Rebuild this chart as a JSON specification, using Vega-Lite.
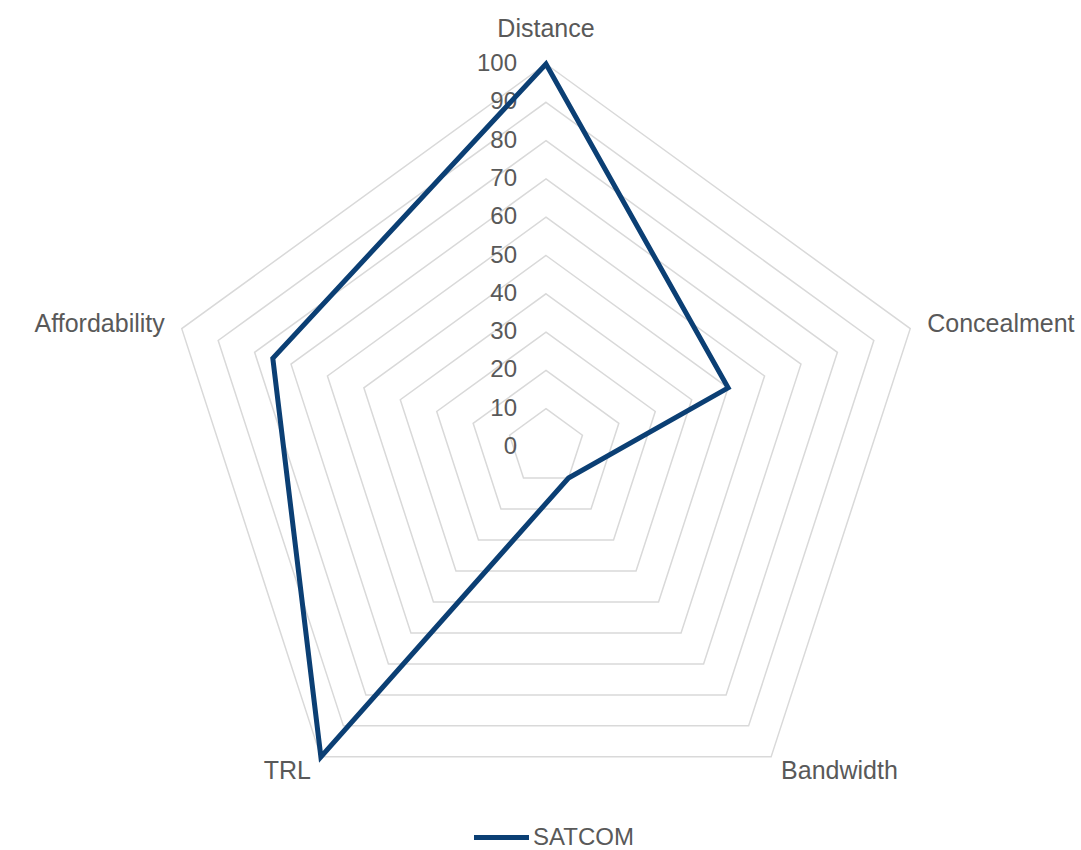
{
  "$schema": "https://vega.github.io/schema/vega-lite/v6.json",
  "width": 1081,
  "height": 850,
  "padding": 0,
  "autosize": {"type": "none"},
  "background": "white",
  "config": {"view": {"stroke": null}, "font": "Liberation Sans"},
  "datasets": {
    "series": [
      {"series": "SATCOM", "axis": "Distance", "k": 0, "value": 100},
      {"series": "SATCOM", "axis": "Concealment", "k": 1, "value": 50},
      {"series": "SATCOM", "axis": "Bandwidth", "k": 2, "value": 10},
      {"series": "SATCOM", "axis": "TRL", "k": 3, "value": 100},
      {"series": "SATCOM", "axis": "Affordability", "k": 4, "value": 75}
    ],
    "rings": [
      {"level": 0, "k": [0, 1, 2, 3, 4]},
      {"level": 10, "k": [0, 1, 2, 3, 4]},
      {"level": 20, "k": [0, 1, 2, 3, 4]},
      {"level": 30, "k": [0, 1, 2, 3, 4]},
      {"level": 40, "k": [0, 1, 2, 3, 4]},
      {"level": 50, "k": [0, 1, 2, 3, 4]},
      {"level": 60, "k": [0, 1, 2, 3, 4]},
      {"level": 70, "k": [0, 1, 2, 3, 4]},
      {"level": 80, "k": [0, 1, 2, 3, 4]},
      {"level": 90, "k": [0, 1, 2, 3, 4]},
      {"level": 100, "k": [0, 1, 2, 3, 4]}
    ]
  },
  "layer": [
    {
      "data": {"name": "rings"},
      "transform": [
        {"filter": "datum.level > 0"},
        {"flatten": ["k"]},
        {"calculate": "datum.level * sin(datum.k * 2 * PI / 5)", "as": "x"},
        {"calculate": "datum.level * cos(datum.k * 2 * PI / 5)", "as": "y"}
      ],
      "mark": {"type": "line", "interpolate": "linear-closed", "stroke": "#d9d9d9", "strokeWidth": 1.5},
      "encoding": {
        "x": {"field": "x", "type": "quantitative", "scale": {"domain": [-142.56, 139.69], "nice": false, "zero": false}, "axis": null},
        "y": {"field": "y", "type": "quantitative", "scale": {"domain": [-105.22, 116.71], "nice": false, "zero": false}, "axis": null},
        "detail": {"field": "level", "type": "nominal"},
        "order": {"field": "k", "type": "quantitative"}
      }
    },
    {
      "data": {"name": "rings"},
      "transform": [
        {"calculate": "0", "as": "x"},
        {"calculate": "datum.level", "as": "y"}
      ],
      "mark": {"type": "text", "align": "right", "baseline": "middle", "dx": -29, "fontSize": 24, "color": "#595959"},
      "encoding": {
        "x": {"field": "x", "type": "quantitative"},
        "y": {"field": "y", "type": "quantitative"},
        "text": {"field": "level", "type": "quantitative"}
      }
    },
    {
      "data": {"name": "series"},
      "transform": [
        {"calculate": "datum.value * sin(datum.k * 2 * PI / 5)", "as": "x"},
        {"calculate": "datum.value * cos(datum.k * 2 * PI / 5)", "as": "y"}
      ],
      "mark": {"type": "line", "interpolate": "linear-closed", "strokeWidth": 5, "strokeJoin": "miter"},
      "encoding": {
        "x": {"field": "x", "type": "quantitative"},
        "y": {"field": "y", "type": "quantitative"},
        "order": {"field": "k", "type": "quantitative"},
        "color": {
          "field": "series",
          "type": "nominal",
          "scale": {"range": ["#0B3F74"]},
          "legend": {
            "title": null,
            "orient": "none",
            "legendX": 485,
            "legendY": 821,
            "padding": 0,
            "symbolType": "M-2,0H2",
            "symbolStrokeWidth": 5,
            "symbolSize": 756,
            "labelFontSize": 24,
            "labelColor": "#595959",
            "labelOffset": 15
          }
        }
      }
    },
    {
      "data": {"name": "series"},
      "transform": [
        {"filter": "datum.k == 0"},
        {"calculate": "100 * sin(datum.k * 2 * PI / 5)", "as": "x"},
        {"calculate": "100 * cos(datum.k * 2 * PI / 5)", "as": "y"}
      ],
      "mark": {"type": "text", "align": "center", "baseline": "middle", "dy": -35, "fontSize": 25, "color": "#595959"},
      "encoding": {
        "x": {"field": "x", "type": "quantitative"},
        "y": {"field": "y", "type": "quantitative"},
        "text": {"field": "axis", "type": "nominal"}
      }
    },
    {
      "data": {"name": "series"},
      "transform": [
        {"filter": "datum.k == 1"},
        {"calculate": "100 * sin(datum.k * 2 * PI / 5)", "as": "x"},
        {"calculate": "100 * cos(datum.k * 2 * PI / 5)", "as": "y"}
      ],
      "mark": {"type": "text", "align": "left", "baseline": "middle", "dx": 17, "dy": -5, "fontSize": 25, "color": "#595959"},
      "encoding": {
        "x": {"field": "x", "type": "quantitative"},
        "y": {"field": "y", "type": "quantitative"},
        "text": {"field": "axis", "type": "nominal"}
      }
    },
    {
      "data": {"name": "series"},
      "transform": [
        {"filter": "datum.k == 2"},
        {"calculate": "100 * sin(datum.k * 2 * PI / 5)", "as": "x"},
        {"calculate": "100 * cos(datum.k * 2 * PI / 5)", "as": "y"}
      ],
      "mark": {"type": "text", "align": "left", "baseline": "middle", "dx": 10, "dy": 14, "fontSize": 25, "color": "#595959"},
      "encoding": {
        "x": {"field": "x", "type": "quantitative"},
        "y": {"field": "y", "type": "quantitative"},
        "text": {"field": "axis", "type": "nominal"}
      }
    },
    {
      "data": {"name": "series"},
      "transform": [
        {"filter": "datum.k == 3"},
        {"calculate": "100 * sin(datum.k * 2 * PI / 5)", "as": "x"},
        {"calculate": "100 * cos(datum.k * 2 * PI / 5)", "as": "y"}
      ],
      "mark": {"type": "text", "align": "right", "baseline": "middle", "dx": -10, "dy": 14, "fontSize": 25, "color": "#595959"},
      "encoding": {
        "x": {"field": "x", "type": "quantitative"},
        "y": {"field": "y", "type": "quantitative"},
        "text": {"field": "axis", "type": "nominal"}
      }
    },
    {
      "data": {"name": "series"},
      "transform": [
        {"filter": "datum.k == 4"},
        {"calculate": "100 * sin(datum.k * 2 * PI / 5)", "as": "x"},
        {"calculate": "100 * cos(datum.k * 2 * PI / 5)", "as": "y"}
      ],
      "mark": {"type": "text", "align": "right", "baseline": "middle", "dx": -17, "dy": -5, "fontSize": 25, "color": "#595959"},
      "encoding": {
        "x": {"field": "x", "type": "quantitative"},
        "y": {"field": "y", "type": "quantitative"},
        "text": {"field": "axis", "type": "nominal"}
      }
    }
  ]
}
